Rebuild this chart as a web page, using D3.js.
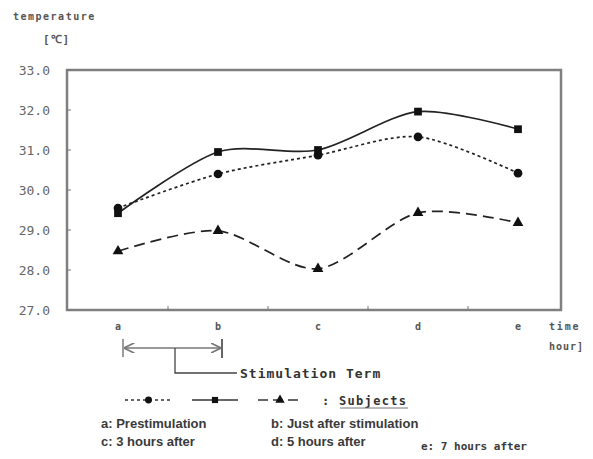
<!DOCTYPE html>
<html>
<head>
<meta charset="utf-8">
<script src="https://cdn.jsdelivr.net/npm/d3@7"></script>
<style>
  body { margin: 0; background: #fff; }
  svg text { fill: #333; }
</style>
</head>
<body>
<div id="chart-container"></div>
<script>
// chart data
const times = ["a", "b", "c", "d", "e"];
const yTicks = [27, 28, 29, 30, 31, 32, 33];
const subject1 = [29.55, 30.4, 30.87, 31.33, 30.42];  // dotted, circles
const subject2 = [29.42, 30.95, 31.0, 31.96, 31.52];  // solid, squares
const subject3 = [28.47, 28.98, 28.03, 29.43, 29.18]; // dashed, triangles
const notes = [
  "a: Prestimulation", "b: Just after stimulation",
  "c: 3 hours after", "d: 5 hours after", "e: 7 hours after"
];

const width = 593, height = 459;
const plotLeft = 67, plotRight = 561, plotTop = 70, plotBottom = 310;
const mono = "'DejaVu Sans Mono'";

const svg = d3.select("#chart-container")
  .append("svg")
  .attr("width", width)
  .attr("height", height);

const x = d3.scaleBand().domain(times).range([68, 568]);
const y = d3.scaleLinear().domain([27, 33]).range([plotBottom, plotTop]);
const cx = d => x(d) + x.bandwidth() / 2;

// frame
svg.append("rect")
  .attr("x", plotLeft).attr("y", plotTop)
  .attr("width", plotRight - plotLeft).attr("height", plotBottom - plotTop)
  .attr("fill", "none").attr("stroke", "#808080").attr("stroke-width", 2.5);

// y ticks + labels
svg.selectAll(".ytick")
  .data(yTicks)
  .enter().append("line")
  .attr("x1", plotLeft).attr("x2", plotLeft + 4)
  .attr("y1", d => y(d)).attr("y2", d => y(d))
  .attr("stroke", "#777");

svg.selectAll(".ylab")
  .data(yTicks)
  .enter().append("text")
  .attr("x", 50).attr("y", d => y(d) + 5)
  .attr("text-anchor", "end")
  .style("font", `13px ${mono}`)
  .style("fill", "#666")
  .text(d => d.toFixed(1));

// x ticks between categories
svg.selectAll(".xtick")
  .data(times.slice(1))
  .enter().append("line")
  .attr("x1", d => x(d)).attr("x2", d => x(d))
  .attr("y1", plotBottom).attr("y2", plotBottom - 4)
  .attr("stroke", "#777");

svg.selectAll(".xlab")
  .data(times)
  .enter().append("text")
  .attr("x", d => cx(d)).attr("y", 330)
  .attr("text-anchor", "middle")
  .style("font", `bold 10px ${mono}`)
  .style("fill", "#555")
  .text(d => d);

// axis titles
function label(tx, ty, size, spacing, txt) {
  svg.append("text").attr("x", tx).attr("y", ty)
    .style("font", `bold ${size}px ${mono}`)
    .style("letter-spacing", spacing + "px")
    .style("fill", "#555")
    .text(txt);
}
label(13, 20, 10, 1.5, "temperature");
label(43, 43, 11, 1, "[℃]");
label(549, 330, 10, 1.8, "time");
label(549, 350, 10, 1, "hour]");

// series
const line = d3.line()
  .x((d, i) => cx(times[i]))
  .y(d => y(d))
  .curve(d3.curveCardinal.tension(0.15));

function drawSeries(data, dash, marker) {
  svg.append("path")
    .datum(data)
    .attr("fill", "none")
    .attr("stroke", "#222")
    .attr("stroke-width", 1.7)
    .attr("stroke-dasharray", dash)
    .attr("d", line);
  svg.selectAll(null)
    .data(data)
    .enter().append("path")
    .attr("transform", (d, i) => `translate(${cx(times[i])},${y(d)})`)
    .attr("d", d3.symbol().type(marker).size(marker === d3.symbolTriangle ? 50 : 60))
    .attr("fill", "#111");
}

drawSeries(subject1, "3,3", d3.symbolCircle);
drawSeries(subject2, null, d3.symbolSquare);
drawSeries(subject3, "11,6", d3.symbolTriangle);

// stimulation term bracket
const sx1 = cx("a") + 5, sx2 = cx("b") + 4, sy = 348;
svg.append("defs").append("marker")
  .attr("id", "arr").attr("viewBox", "0 0 10 10")
  .attr("refX", 10).attr("refY", 5)
  .attr("markerWidth", 7).attr("markerHeight", 7)
  .attr("orient", "auto-start-reverse")
  .append("path").attr("d", "M0,0L10,5L0,10").attr("fill", "none").attr("stroke", "#777").attr("stroke-width", 1.5);
svg.append("line").attr("x1", sx1).attr("x2", sx1).attr("y1", 339).attr("y2", 357).attr("stroke", "#666").attr("stroke-width", 1.3);
svg.append("line").attr("x1", sx2).attr("x2", sx2).attr("y1", 339).attr("y2", 358).attr("stroke", "#333").attr("stroke-width", 1.5);
svg.append("line").attr("x1", sx1 + 1).attr("x2", sx2 - 1).attr("y1", sy).attr("y2", sy)
  .attr("stroke", "#777").attr("stroke-width", 1.5)
  .attr("marker-start", "url(#arr)").attr("marker-end", "url(#arr)");
svg.append("path")
  .attr("d", `M175,${sy}V373H237`)
  .attr("fill", "none").attr("stroke", "#444").attr("stroke-width", 1.3);
svg.append("text").attr("x", 240).attr("y", 378)
  .style("font", `bold 13px ${mono}`).style("letter-spacing", "1px").style("fill", "#333")
  .text("Stimulation Term");

// legend
const legend = [
  { x0: 125, x1: 172, dash: "3,3", marker: d3.symbolCircle },
  { x0: 192, x1: 238, dash: null, marker: d3.symbolSquare },
  { x0: 258, x1: 302, dash: "10,5", marker: d3.symbolTriangle }
];
const ly = 400;
legend.forEach(l => {
  svg.append("line").attr("x1", l.x0).attr("x2", l.x1).attr("y1", ly).attr("y2", ly)
    .attr("stroke", "#333").attr("stroke-width", 1.3).attr("stroke-dasharray", l.dash);
  svg.append("path")
    .attr("transform", `translate(${(l.x0 + l.x1) / 2},${ly})`)
    .attr("d", d3.symbol().type(l.marker).size(38))
    .attr("fill", "#111");
});
svg.append("text").attr("x", 322).attr("y", 405)
  .style("font", `bold 12px ${mono}`).style("letter-spacing", "1.3px").style("fill", "#333")
  .text(": Subjects");
svg.append("line").attr("x1", 340).attr("x2", 408).attr("y1", 408).attr("y2", 408)
  .attr("stroke", "#777");

// footnotes
const notePos = [[101, 428], [271, 428], [101, 446], [271, 446], [421, 450]];
svg.selectAll(".note")
  .data(notes)
  .enter().append("text")
  .attr("x", (d, i) => notePos[i][0]).attr("y", (d, i) => notePos[i][1])
  .style("font", (d, i) => i === 4 ? `bold 11px ${mono}` : "bold 13px 'Liberation Sans Narrow', 'Liberation Sans'")
  .style("fill", "#3a3a3a")
  .text(d => d);
</script>
</body>
</html>
